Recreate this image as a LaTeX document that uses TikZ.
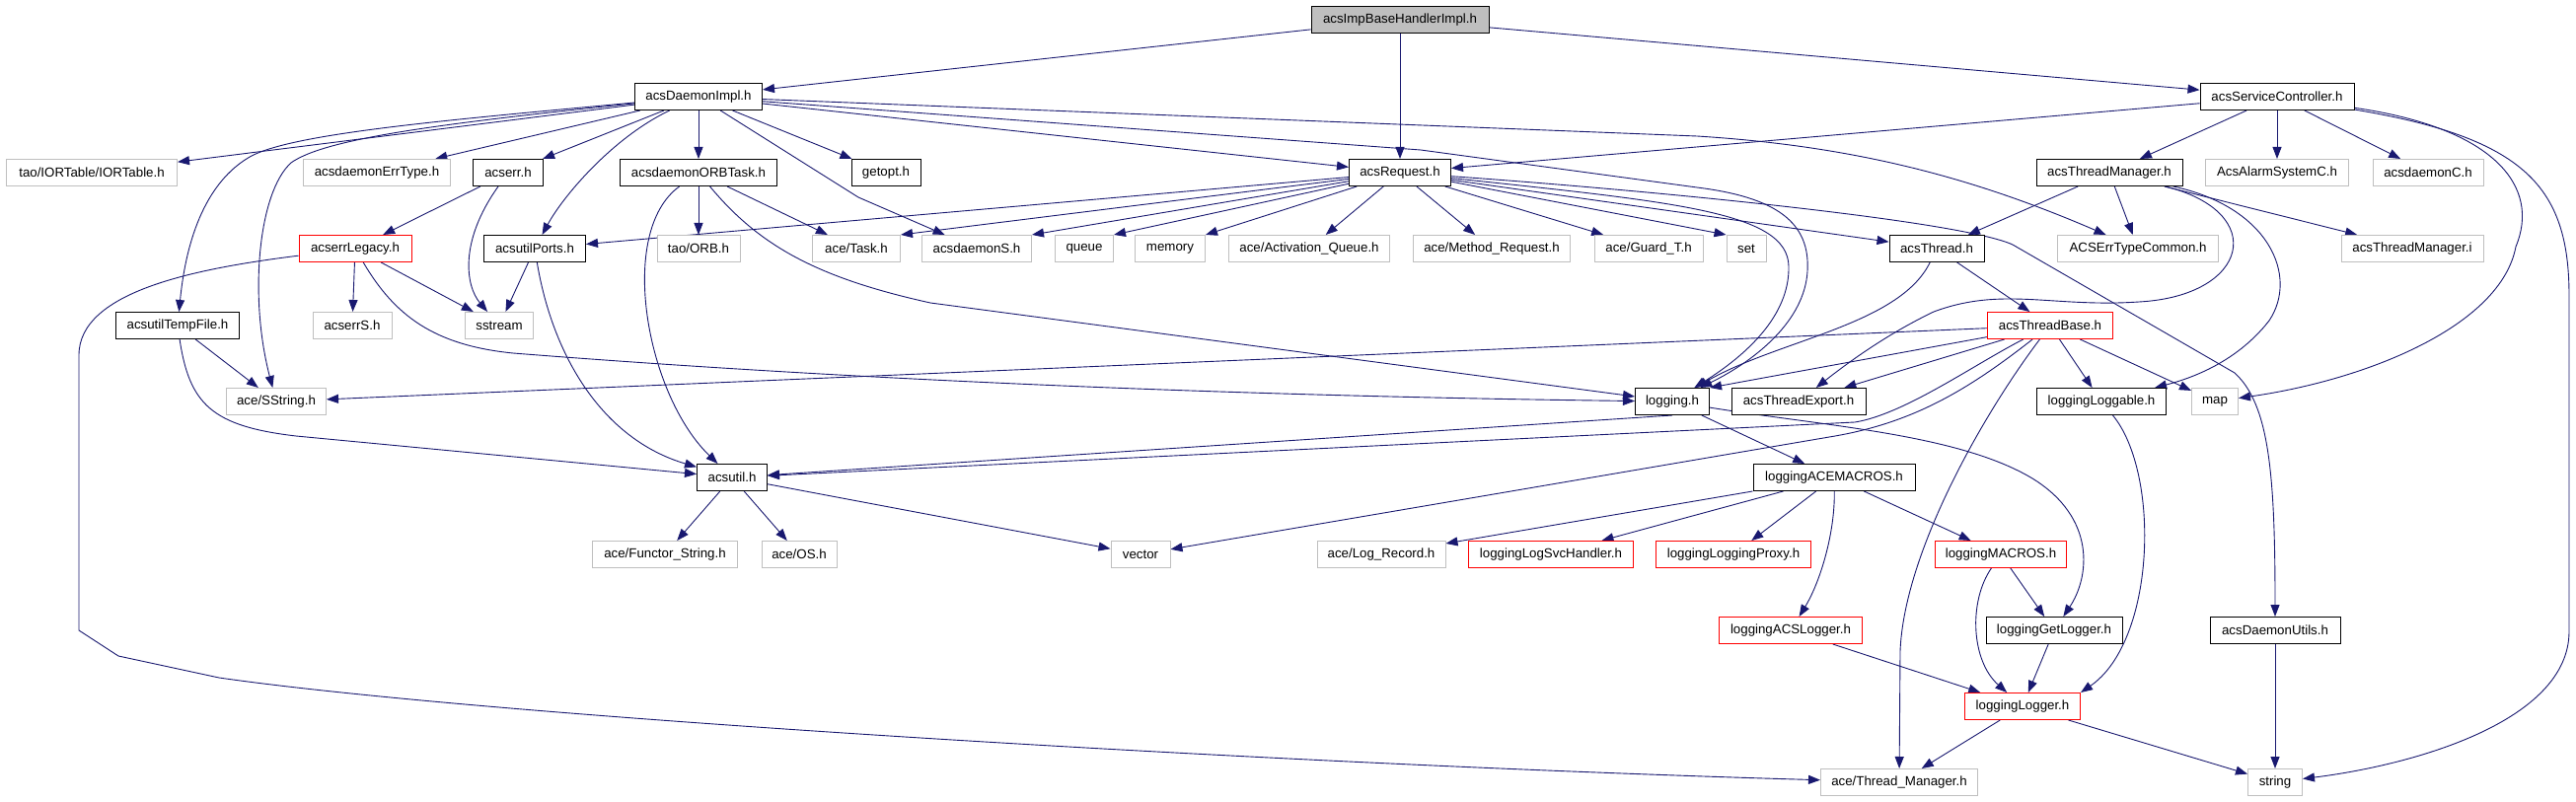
\documentclass[tikz,border=0pt]{standalone}
\usepackage{fontspec}
\setmainfont{Liberation Sans}
\usetikzlibrary{arrows.meta}
\definecolor{edgecol}{HTML}{191970}
\definecolor{boxgray}{HTML}{BFBFBF}
\definecolor{boxred}{HTML}{FF0000}
\pgfdeclarelayer{background}
\pgfsetlayers{background,main}
\tikzset{
  nb/.style={rectangle, fill=white, line width=1pt, minimum height=27pt, inner sep=0pt, font=\fontsize{13.3}{15}\selectfont},
  bb/.style={nb, draw=black},
  gb/.style={nb, draw=boxgray},
  rb/.style={nb, draw=boxred},
  topb/.style={nb, draw=black, fill=boxgray},
  e/.style={draw=edgecol, line width=0.9pt, -{Triangle[length=12pt,width=9pt]}}
}
\begin{document}
\begin{tikzpicture}[x=1pt,y=-1pt]
\useasboundingbox (0,0) rectangle (2611,813);
% row 0
\node[topb, minimum width=180pt] (impl) at (1419,20) {acsImpBaseHandlerImpl.h};
% row 1
\node[bb, minimum width=129pt] (daemonimpl) at (708,98) {acsDaemonImpl.h};
\node[bb, minimum width=156pt] (servicectrl) at (2308,98) {acsServiceController.h};
% row 2
\node[gb, minimum width=173pt] (iortable) at (93,175) {tao/IORTable/IORTable.h};
\node[gb, minimum width=149pt] (errtype) at (382,175) {acsdaemonErrType.h};
\node[bb, minimum width=71pt] (acserr) at (515,175) {acserr.h};
\node[bb, minimum width=159pt] (orbtask) at (708,175) {acsdaemonORBTask.h};
\node[bb, minimum width=70pt] (getopt) at (898,175) {getopt.h};
\node[bb, minimum width=103pt] (request) at (1419,175) {acsRequest.h};
\node[bb, minimum width=148pt] (threadmgr) at (2138,175) {acsThreadManager.h};
\node[gb, minimum width=145pt] (alarm) at (2308,175) {AcsAlarmSystemC.h};
\node[gb, minimum width=112pt] (daemonC) at (2461,175) {acsdaemonC.h};
% row 3
\node[rb, minimum width=114pt] (legacy) at (360,252) {acserrLegacy.h};
\node[bb, minimum width=103pt] (utilports) at (542,252) {acsutilPorts.h};
\node[gb, minimum width=84pt] (orb) at (708,252) {tao/ORB.h};
\node[gb, minimum width=89pt] (task) at (868,252) {ace/Task.h};
\node[gb, minimum width=111pt] (daemonS) at (990,252) {acsdaemonS.h};
\node[gb, minimum width=59pt] (queue) at (1099,252) {queue};
\node[gb, minimum width=71pt] (memory) at (1186,252) {memory};
\node[gb, minimum width=163pt] (activation) at (1327,252) {ace/Activation\_Queue.h};
\node[gb, minimum width=159pt] (methodreq) at (1512,252) {ace/Method\_Request.h};
\node[gb, minimum width=110pt] (guard) at (1671,252) {ace/Guard\_T.h};
\node[gb, minimum width=40pt] (set) at (1770,252) {set};
\node[bb, minimum width=96pt] (thread) at (1963,252) {acsThread.h};
\node[gb, minimum width=163pt] (errtypecommon) at (2167,252) {ACSErrTypeCommon.h};
\node[gb, minimum width=144pt] (tmi) at (2445,252) {acsThreadManager.i};
% row 4
\node[bb, minimum width=125pt] (tempfile) at (180,330) {acsutilTempFile.h};
\node[gb, minimum width=80pt] (errS) at (357,330) {acserrS.h};
\node[gb, minimum width=69pt] (sstream) at (506,330) {sstream};
\node[rb, minimum width=127pt] (threadbase) at (2078,330) {acsThreadBase.h};
% row 5
\node[gb, minimum width=101pt] (sstring) at (280,407) {ace/SString.h};
\node[bb, minimum width=75pt] (logging) at (1695,407) {logging.h};
\node[bb, minimum width=136pt] (threadexport) at (1823,407) {acsThreadExport.h};
\node[bb, minimum width=131pt] (loggable) at (2130,407) {loggingLoggable.h};
\node[gb, minimum width=47pt] (map) at (2245,407) {map};
% row 6
\node[bb, minimum width=71pt] (acsutil) at (742,484) {acsutil.h};
\node[bb, minimum width=164pt] (acemacros) at (1859,484) {loggingACEMACROS.h};
% row 7
\node[gb, minimum width=147pt] (functor) at (674,562) {ace/Functor\_String.h};
\node[gb, minimum width=76pt] (os) at (810,562) {ace/OS.h};
\node[gb, minimum width=60pt] (vector) at (1156,562) {vector};
\node[gb, minimum width=130pt] (logrecord) at (1400,562) {ace/Log\_Record.h};
\node[rb, minimum width=167pt] (logsvc) at (1572,562) {loggingLogSvcHandler.h};
\node[rb, minimum width=157pt] (proxy) at (1757,562) {loggingLoggingProxy.h};
\node[rb, minimum width=133pt] (macros) at (2028,562) {loggingMACROS.h};
% row 8
\node[rb, minimum width=145pt] (acslogger) at (1815,639) {loggingACSLogger.h};
\node[bb, minimum width=138pt] (getlogger) at (2082,639) {loggingGetLogger.h};
\node[bb, minimum width=132pt] (daemonutils) at (2306,639) {acsDaemonUtils.h};
% row 9
\node[rb, minimum width=117pt] (logger) at (2050,716) {loggingLogger.h};
% row 10
\node[gb, minimum width=159pt] (threadmanager) at (1925,793) {ace/Thread\_Manager.h};
\node[gb, minimum width=55pt] (string) at (2306,793) {string};

\begin{pgfonlayer}{background}
\fill[white] (0,0) rectangle (2611,813);
% from top node
\draw[e] (impl) -- (daemonimpl);
\draw[e] (impl) -- (request);
\draw[e] (impl) -- (servicectrl);
% from acsDaemonImpl.h
\draw[e] (daemonimpl) -- (iortable);
\draw[e] (daemonimpl) -- (errtype);
\draw[e] (daemonimpl) -- (acserr);
\draw[e] (daemonimpl) -- (orbtask);
\draw[e] (daemonimpl) -- (getopt);
\draw[e] (daemonimpl) -- (request);
\draw[e] (daemonimpl) .. controls (620,140) and (570,200) .. (utilports);
\draw[e] (daemonimpl) -- (870,200) -- (daemonS);
\draw[e] (daemonimpl) .. controls (450,122) and (300,135) .. (255,158) .. controls (215,180) and (190,230) .. (tempfile);
\draw[e] (daemonimpl) .. controls (450,125) and (330,140) .. (295,165) .. controls (262,195) and (252,300) .. (sstring);
\draw[e] (daemonimpl) -- (1720,138) .. controls (1880,148) and (2000,180) .. (errtypecommon);
\draw[e] (daemonimpl) -- (1440,152) -- (1720,190) .. controls (1800,200) and (1835,225) .. (1832,275) .. controls (1829,325) and (1780,365) .. (logging);
% from acsServiceController.h
\draw[e] (servicectrl) -- (threadmgr);
\draw[e] (servicectrl) -- (alarm);
\draw[e] (servicectrl) -- (daemonC);
\draw[e] (servicectrl) -- (request);
\draw[e] (servicectrl) .. controls (2530,130) and (2575,190) .. (2550,250) .. controls (2535,330) and (2400,385) .. (map);
\draw[e] (servicectrl) .. controls (2560,140) and (2604,190) .. (2604,300) -- (2604,640) .. controls (2604,730) and (2450,775) .. (string);
% from acsRequest.h
\draw[e] (request) -- (utilports);
\draw[e] (request) -- (task.north east);
\draw[e] (request) -- (daemonS.north east);
\draw[e] (request) -- (queue.north east);
\draw[e] (request) -- (memory.north east);
\draw[e] (request) -- (activation);
\draw[e] (request) -- (methodreq);
\draw[e] (request) -- (guard);
\draw[e] (request.-10) -- (set.north west);
\draw[e] (request) -- (thread);
\draw[e] (request) .. controls (1700,205) and (1812,215) .. (1813,270) .. controls (1814,320) and (1770,360) .. (logging);
\draw[e] (request) .. controls (1700,195) and (1990,225) .. (2040,248) -- (2265,378) .. controls (2300,410) and (2306,480) .. (daemonutils);
% acserr.h
\draw[e] (acserr) -- (legacy);
\draw[e] (acserr) .. controls (465,245) and (472,290) .. (sstream);
% acsdaemonORBTask.h
\draw[e] (orbtask) .. controls (625,235) and (655,400) .. (acsutil);
\draw[e] (orbtask) -- (orb);
\draw[e] (orbtask) -- (task);
\draw[e] (orbtask) .. controls (770,250) and (830,282) .. (943,307) -- (logging);
% acsThreadManager.h
\draw[e] (threadmgr) -- (thread);
\draw[e] (threadmgr) -- (errtypecommon);
\draw[e] (threadmgr) -- (tmi);
\draw[e] (threadmgr) .. controls (2300,215) and (2280,300) .. (2168,306) .. controls (2080,312) and (2030,290) .. (1960,316) .. controls (1910,340) and (1870,370) .. (threadexport);
\draw[e] (threadmgr) .. controls (2300,210) and (2330,280) .. (2300,325) .. controls (2265,370) and (2215,385) .. (loggable);
% acserrLegacy.h
\draw[e] (legacy) -- (errS);
\draw[e] (legacy) -- (sstream);
\draw[e] (legacy) .. controls (400,320) and (440,350) .. (520,358) .. controls (900,388) and (1300,402) .. (logging);
\draw[e] (legacy) .. controls (200,272) and (80,295) .. (80,360) -- (80,639) -- (120,665) -- (222,687) .. controls (500,727) and (1300,775) .. (threadmanager);
% acsutilPorts.h
\draw[e] (utilports) -- (sstream);
\draw[e] (utilports) .. controls (560,360) and (610,445) .. (acsutil);
% acsThread.h
\draw[e] (thread) -- (threadbase);
\draw[e] (thread) .. controls (1925,330) and (1800,345) .. (logging);
% acsutilTempFile.h
\draw[e] (tempfile) -- (sstring);
\draw[e] (tempfile) .. controls (192,410) and (215,432) .. (300,442) -- (acsutil);
% acsThreadBase.h
\draw[e] (threadbase) -- (sstring);
\draw[e] (threadbase) -- (logging.north east);
\draw[e] (threadbase) -- (threadexport);
\draw[e] (threadbase) -- (loggable);
\draw[e] (threadbase) -- (map);
\draw[e] (threadbase) .. controls (2000,370) and (1930,420) .. (1880,428) -- (acsutil);
\draw[e] (threadbase) .. controls (1995,395) and (1940,428) .. (1860,442) -- (vector);
\draw[e] (threadbase) .. controls (2010,420) and (1930,560) .. (1926,660) -- (threadmanager);
% logging.h
\draw[e] (logging.south) -- (acsutil);
\draw[e] (logging) -- (acemacros);
\draw[e] (logging) .. controls (1850,432) and (1985,440) .. (2060,485) .. controls (2125,525) and (2118,585) .. (getlogger);
% loggingLoggable.h
\draw[e] (loggable) .. controls (2190,480) and (2185,650) .. (logger.north east);
% acsutil.h
\draw[e] (acsutil) -- (functor);
\draw[e] (acsutil) -- (os);
\draw[e] (acsutil) -- (vector);
% loggingACEMACROS.h
\draw[e] (acemacros) -- (logrecord);
\draw[e] (acemacros) -- (logsvc);
\draw[e] (acemacros) -- (proxy);
\draw[e] (acemacros) .. controls (1860,540) and (1845,590) .. (acslogger);
\draw[e] (acemacros) -- (macros);
% loggingMACROS.h
\draw[e] (macros) -- (getlogger);
\draw[e] (macros) .. controls (1995,610) and (1998,670) .. (logger);
% lower
\draw[e] (acslogger) -- (logger);
\draw[e] (getlogger) -- (logger);
\draw[e] (daemonutils) -- (string);
\draw[e] (logger) -- (threadmanager);
\draw[e] (logger) -- (string);
\end{pgfonlayer}
\end{tikzpicture}
\end{document}
